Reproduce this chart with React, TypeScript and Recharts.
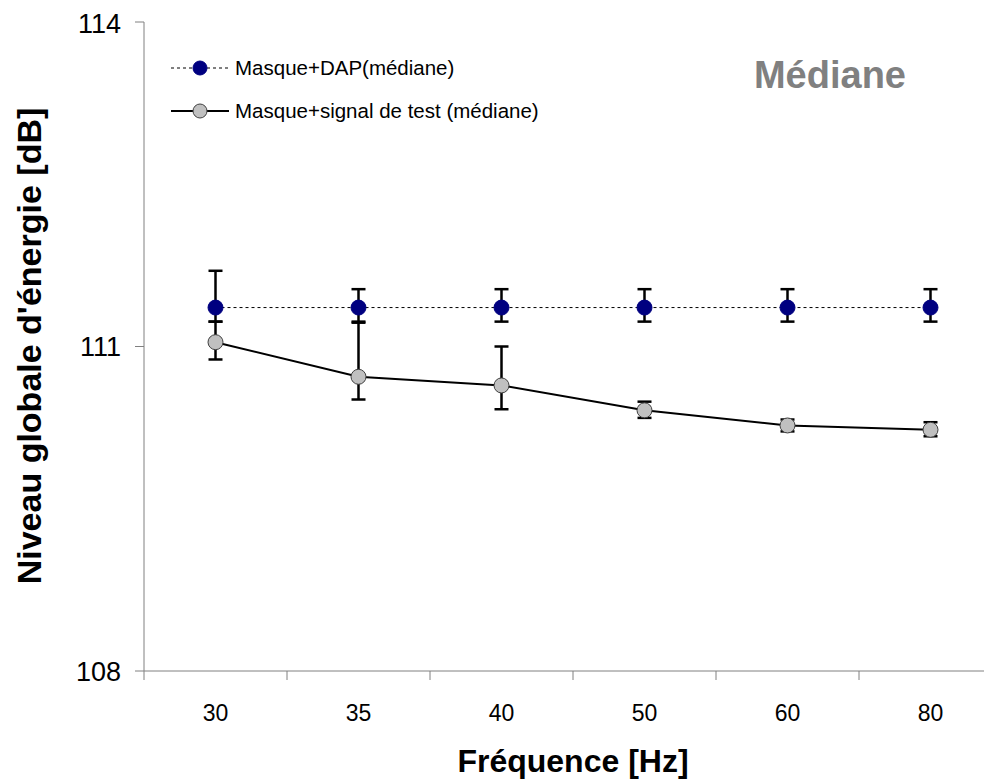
import { LineChart, Line, XAxis, YAxis, ErrorBar, Legend } from 'recharts';

const categories = ['30', '35', '40', '50', '60', '80'];
const dapMedian = [111.36, 111.36, 111.36, 111.36, 111.36, 111.36];
const dapError = [[0.13, 0.34], [0.13, 0.17], [0.13, 0.17], [0.13, 0.17], [0.13, 0.17], [0.13, 0.17]];
const testMedian = [111.04, 110.72, 110.64, 110.41, 110.27, 110.23];
const testError = [[0.16, 0.19], [0.21, 0.5], [0.22, 0.36], [0.07, 0.08], [0.055, 0.055], [0.06, 0.07]];
const yTicks = [108, 111, 114];
const xBounds = [-0.5, 0.5, 1.5, 2.5, 3.5, 4.5, 5.5];

const data = categories.map((c, i) => ({
  i,
  cat: c,
  dap: dapMedian[i],
  dapErr: dapError[i],
  test: testMedian[i],
  testErr: testError[i],
}));

const FONT = '"Liberation Sans", Arial, sans-serif';
const W = 1010;
const H = 773;
const MARGIN = { top: 14, right: 16, bottom: 40, left: 76 };
const HALF_BAND = (W - MARGIN.left - 60 - MARGIN.right) / 12;

function XTick(props: any) {
  const { x, y, payload } = props;
  const idx = payload.value + 0.5;
  if (idx > categories.length - 1) return null;
  return (
    <text
      x={x + HALF_BAND}
      y={y + 39}
      textAnchor="middle"
      fontFamily={FONT}
      fontSize={23}
      fill="#000"
    >
      {categories[idx]}
    </text>
  );
}

function renderLegend() {
  const rows = [
    { name: 'Masque+DAP(médiane)', dash: '3 3', fill: '#000080', width: 1 },
    { name: 'Masque+signal de test (médiane)', dash: undefined, fill: '#c0c0c0', width: 2 },
  ];
  return (
    <div style={{ fontFamily: FONT, fontSize: 20.5 }}>
      {rows.map((r) => (
        <div key={r.name} style={{ display: 'flex', alignItems: 'center', height: 43 }}>
          <svg width={64} height={20}>
            <line x1={0} x2={58} y1={10} y2={10} stroke="#000" strokeWidth={r.width} strokeDasharray={r.dash} />
            <circle cx={29} cy={10} r={7} fill={r.fill} stroke={r.fill === '#000080' ? '#000080' : '#404040'} />
          </svg>
          <span>{r.name}</span>
        </div>
      ))}
    </div>
  );
}

export default function App() {
  return (
    <div style={{ width: 984, height: H, overflow: 'hidden' }}>
      <LineChart width={W} height={H} data={data} margin={MARGIN}>
        <XAxis
          dataKey="i"
          type="number"
          domain={[-0.5, 5.5]}
          ticks={xBounds}
          interval={0}
          stroke="#808080"
          tickSize={9}
          tick={<XTick />}
          height={70}
          label={{
            content: () => (
              <text x={565} y={764} textAnchor="middle" fontFamily={FONT} fontSize={32} fontWeight="bold" fill="#000">
                Fréquence [Hz]
              </text>
            ),
          }}
        />
        <YAxis
          domain={[108, 114]}
          ticks={yTicks}
          width={60}
          stroke="#808080"
          tickSize={9}
          tickMargin={14}
          tick={{ fill: '#000', fontSize: 27, fontFamily: FONT }}
          label={{
            content: () => (
              <g>
                <text
                  x={21}
                  y={338}
                  transform="rotate(-90 21 338)"
                  textAnchor="middle"
                  dominantBaseline="central"
                  fontFamily={FONT}
                  fontSize={34}
                  fontWeight="bold"
                  fill="#000"
                >
                  Niveau globale d'énergie [dB]
                </text>
                <text x={822} y={80} textAnchor="middle" fontFamily={FONT} fontSize={38} fontWeight="bold" fill="#808080">
                  Médiane
                </text>
              </g>
            ),
          }}
        />
        <Legend
          content={renderLegend}
          layout="horizontal"
          verticalAlign="middle"
          align="center"
          wrapperStyle={{ top: 38, left: 163, width: 460 }}
        />
        <Line
          dataKey="dap"
          name="Masque+DAP(médiane)"
          stroke="#000"
          strokeWidth={1}
          strokeDasharray="3 3"
          dot={{ r: 7.5, fill: '#000080', stroke: '#000080', strokeWidth: 1, strokeDasharray: '' }}
          isAnimationActive={false}
        >
          <ErrorBar dataKey="dapErr" width={7} stroke="#000" strokeWidth={2.5} direction="y" />
        </Line>
        <Line
          dataKey="test"
          name="Masque+signal de test (médiane)"
          stroke="#000"
          strokeWidth={2}
          dot={{ r: 7.5, fill: '#c0c0c0', stroke: '#404040', strokeWidth: 1 }}
          isAnimationActive={false}
        >
          <ErrorBar dataKey="testErr" width={7} stroke="#000" strokeWidth={2.5} direction="y" />
        </Line>
      </LineChart>
    </div>
  );
}
